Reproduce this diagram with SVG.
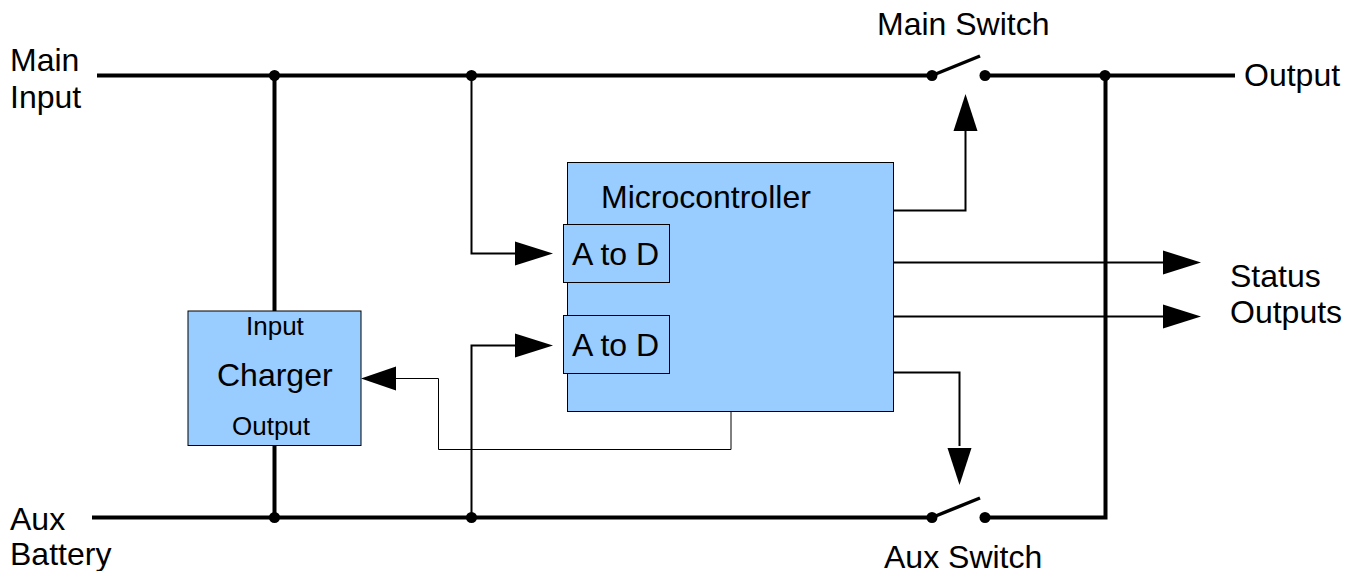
<svg xmlns="http://www.w3.org/2000/svg" width="1355" height="571" viewBox="0 0 1355 571">
<style>
text{font-family:"Liberation Sans",Arial,sans-serif;fill:#000}
.t{font-size:32px}
.s{font-size:26px}
.thick{fill:none;stroke:#000;stroke-width:4}
.arm{fill:none;stroke:#000;stroke-width:3.5}
.med{fill:none;stroke:#000;stroke-width:2}
.thin{fill:none;stroke:#000;stroke-width:1}
.box{fill:#99ccff;stroke:#000;stroke-width:1}
</style>
<rect width="1355" height="571" fill="#fff"/>
<g id="connectors">
<path class="thick" d="M97 75.500H932M985 75.500H1235M274.500 75.500V311M274.500 445V517.500M92 517.500H932M985 517.500H1105.500V75.500"/>
<path class="med" d="M471.500 75.500V253.500H518M471.500 517.500V345.500H518M894 210.500H965.500V130M894 262.500H1166M894 316.500H1166M894 372.500H959.500V446"/>
<path class="thin" d="M731 412V449.500H438.500V378.500H396"/>
<path d="M553 253.500L515 241.500V265.500Z"/>
<path d="M553 345.500L515 333.500V357.500Z"/>
<path d="M965.500 94L953.500 131H977.500Z"/>
<path d="M1201 262.500L1163 250.500V274.500Z"/>
<path d="M1201 316.500L1163 304.500V328.500Z"/>
<path d="M959.500 485L947.500 448H971.500Z"/>
<path d="M361 378.500L396 366.500V390.500Z"/>
<circle cx="274.500" cy="75.500" r="5.500"/><circle cx="471.500" cy="75.500" r="5.500"/><circle cx="1105" cy="75.500" r="5.500"/>
<circle cx="274.500" cy="517.500" r="5.500"/><circle cx="471.500" cy="517.500" r="5.500"/>
</g>
<g id="main-switch"><circle cx="932" cy="75.500" r="5.500"/><circle cx="985" cy="75.500" r="5.500"/><path class="arm" d="M932 75.500L980 56"/><text class="t" x="877" y="35">Main Switch</text></g>
<g id="aux-switch"><circle cx="932" cy="517.500" r="5.500"/><circle cx="985" cy="517.500" r="5.500"/><path class="arm" d="M932 517.500L980 498"/><text class="t" x="884" y="568">Aux Switch</text></g>
<g id="microcontroller"><rect class="box" x="567.500" y="162.500" width="326" height="249"/><text class="t" x="601" y="208">Microcontroller</text></g>
<g id="adc1"><rect class="box" x="563.500" y="224.500" width="106" height="58"/><text class="t" x="572" y="265">A to D</text></g>
<g id="adc2"><rect class="box" x="563.500" y="315.500" width="106" height="58"/><text class="t" x="572" y="356">A to D</text></g>
<g id="charger"><rect class="box" x="188" y="311" width="173" height="134.500"/>
<text class="s" x="246" y="335">Input</text><text class="t" x="217" y="386">Charger</text><text class="s" x="232" y="435">Output</text></g>
<g id="main-input"><text class="t" x="10" y="71">Main</text><text class="t" x="10" y="108">Input</text></g>
<g id="aux-battery"><text class="t" x="10" y="530">Aux</text><text class="t" x="10" y="565">Battery</text></g>
<g id="output"><text class="t" x="1244" y="86">Output</text></g>
<g id="status"><text class="t" x="1230" y="287">Status</text><text class="t" x="1230" y="323">Outputs</text></g>
</svg>
